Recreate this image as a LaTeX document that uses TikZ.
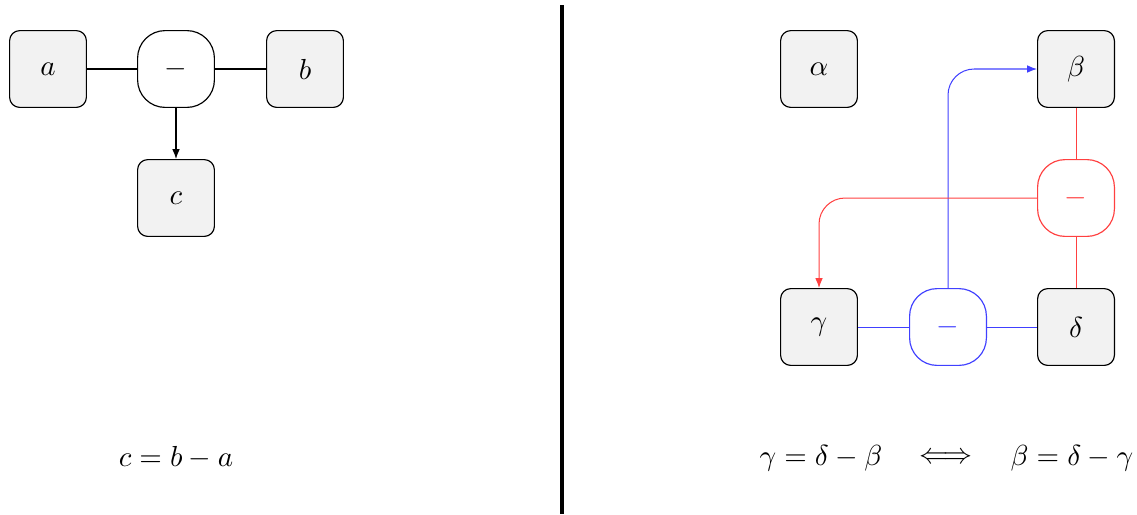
\documentclass[tikz,border=0pt]{standalone}
\usetikzlibrary{arrows.meta}
\begin{document}
\begin{tikzpicture}[x=0.345pt,y=-0.345pt,
  varbox/.style={draw, fill=black!5, rounded corners=3.5pt, minimum width=26.5pt, minimum height=26.5pt, inner sep=0pt, line width=0.4pt},
  opbox/.style={draw, fill=white, rounded corners=9.5pt, minimum width=26.5pt, minimum height=26.5pt, inner sep=0pt, line width=0.4pt},
  link/.style={line width=0.35pt},
  arr/.style={line width=0.35pt, -{Latex[length=3.4pt,width=2.6pt]}},
  redc/.style={draw=red!75, text=red!75},
  bluec/.style={draw=blue!75, text=blue!75}]
\useasboundingbox (0,0) rectangle (1137,514);
% left
\node[varbox] (a) at (48,69) {$a$};
\node[opbox] (m) at (176,69) {$-$};
\node[varbox] (b) at (305,69) {$b$};
\node[varbox] (c) at (176,198) {$c$};
\draw[link] (a) -- (m);
\draw[link] (m) -- (b);
\draw[arr] (m) -- (c);
\node (eq1) at (176,458) {$c = b - a$};
% divider
\coordinate (top) at (562,5);
\coordinate (bot) at (562,514);
\draw[line width=1.6pt] (top) -- (bot);
% right
\node[varbox] (alpha) at (819,69) {$\alpha$};
\node[varbox] (beta) at (1076,69) {$\beta$};
\node[opbox, redc] (rm) at (1076,198) {$-$};
\node[varbox] (gamma) at (819,327) {$\gamma$};
\node[opbox, bluec] (bm) at (948,327) {$-$};
\node[varbox] (delta) at (1076,327) {$\delta$};
\draw[link, blue!75] (gamma) -- (bm);
\draw[link, blue!75] (bm) -- (delta);
\draw[arr, blue!75, rounded corners=9pt] (bm.north) |- (beta.west);
\draw[link, red!75] (beta) -- (rm);
\draw[link, red!75] (rm) -- (delta);
\draw[arr, red!75, rounded corners=9pt] (rm.west) -| (gamma.north);
\node (eq2a) at (821,458) {$\gamma = \delta - \beta$};
\node (eq2b) at (946,458) {$\iff$};
\node (eq2c) at (1072,458) {$\beta = \delta - \gamma$};
\end{tikzpicture}
\end{document}
